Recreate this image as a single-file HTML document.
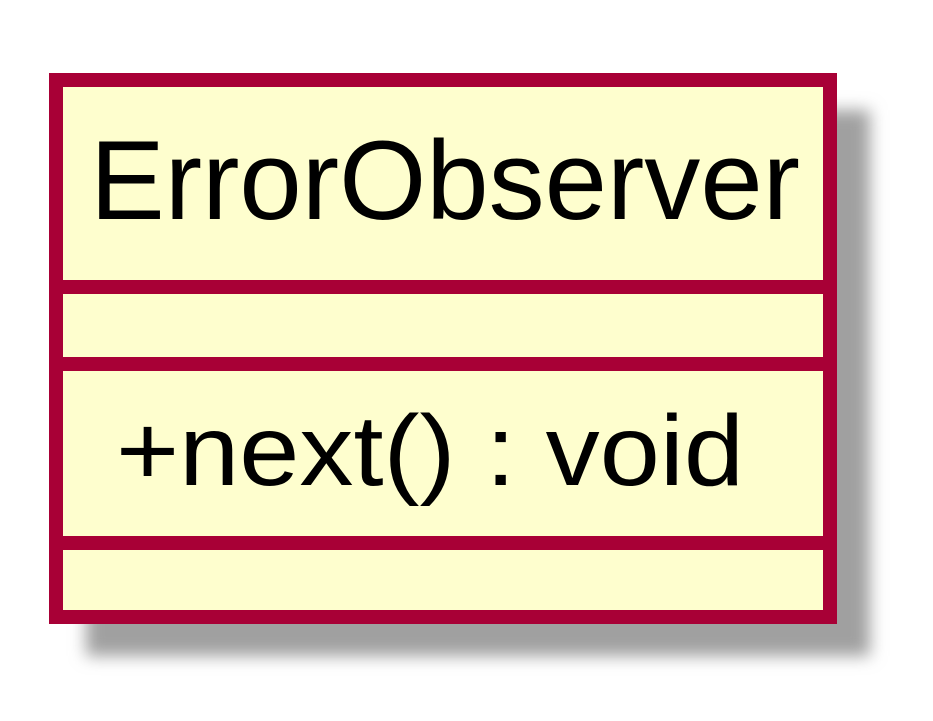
<!DOCTYPE html>
<html><head><meta charset="utf-8"><style>
html,body{margin:0;padding:0;background:#fff;width:933px;height:721px;overflow:hidden}
</style></head><body>
<svg width="933" height="721" viewBox="0 0 933 721" xmlns="http://www.w3.org/2000/svg">
<defs><filter id="b" x="-20%" y="-20%" width="140%" height="140%"><feGaussianBlur stdDeviation="8"/></filter></defs>
<rect x="86" y="110" width="784" height="546" fill="#a0a0a0" filter="url(#b)"/>
<rect x="56" y="80" width="774" height="537" fill="#FEFECE" stroke="#A80036" stroke-width="14"/>
<line x1="56" y1="287" x2="830" y2="287" stroke="#A80036" stroke-width="14"/>
<line x1="56" y1="364" x2="830" y2="364" stroke="#A80036" stroke-width="14"/>
<line x1="56" y1="543" x2="830" y2="543" stroke="#A80036" stroke-width="14"/>
<text x="90" y="219" font-family="Liberation Sans, sans-serif" font-size="112" textLength="710" lengthAdjust="spacingAndGlyphs" fill="#000">ErrorObserver</text>
<text x="116" y="485" font-family="Liberation Sans, sans-serif" font-size="100" textLength="628" lengthAdjust="spacingAndGlyphs" fill="#000">+next() : void</text>
</svg>
</body></html>
